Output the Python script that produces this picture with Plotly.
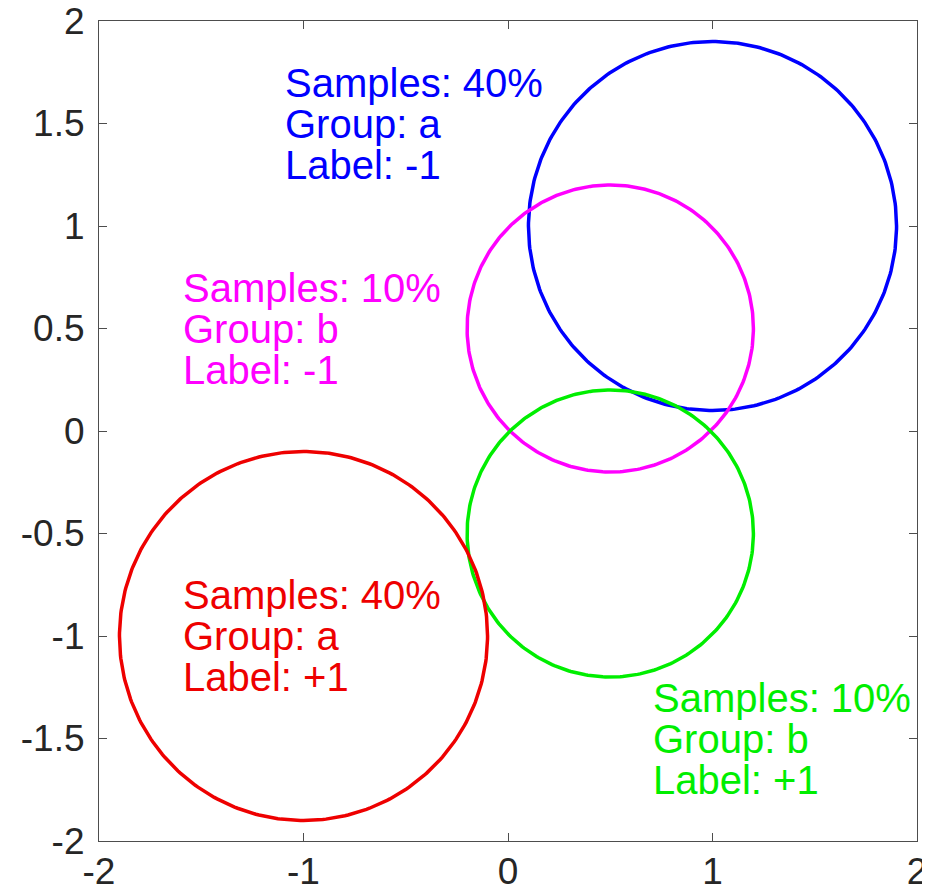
import numpy as np
import plotly.graph_objects as go

# Circle data
centers_x = [1.0, 0.5, 0.5, -1.0]
centers_y = [1.0, 0.5, -0.5, -1.0]
radii = [0.9, 0.7, 0.7, 0.9]
colors = ["#0000ff", "#ff00ff", "#00ee00", "#ee0000"]

# Text label data
label_x = [-1.1, -1.6, 0.7, -1.6]
label_y = [1.5, 0.5, -1.5, -1.0]
samples = ["Samples: 40%", "Samples: 10%", "Samples: 10%", "Samples: 40%"]
groups = ["Group: a", "Group: b", "Group: b", "Group: a"]
labels = ["Label: -1", "Label: -1", "Label: +1", "Label: +1"]

# Ticks
x_ticks = [-2, -1, 0, 1, 2]
x_ticktext = ["-2", "-1", "0", "1", "2"]
y_ticks = [-2, -1.5, -1, -0.5, 0, 0.5, 1, 1.5, 2]
y_ticktext = ["-2", "-1.5", "-1", "-0.5", "0", "0.5", "1", "1.5", "2"]

fig = go.Figure()
theta = np.linspace(0, 2 * np.pi, 361)
for cx, cy, r, c in zip(centers_x, centers_y, radii, colors):
    fig.add_trace(go.Scatter(
        x=cx + r * np.cos(theta), y=cy + r * np.sin(theta),
        mode="lines", line=dict(color=c, width=3.5), showlegend=False,
        hoverinfo="skip"))

line_step = 0.2
for lx, ly, s, g, l, c in zip(label_x, label_y, samples, groups, labels, colors):
    for k, t in enumerate([s, g, l]):
        fig.add_annotation(x=lx, y=ly + (1 - k) * line_step, text=t,
                           xref="x", yref="y", xanchor="left", yanchor="middle",
                           showarrow=False,
                           font=dict(family="Liberation Sans, Arial, sans-serif",
                                     size=40, color=c))

axis_common = dict(
    showgrid=False, zeroline=False, showline=True, linecolor="#4d4d4d",
    linewidth=1.2, mirror="allticks", ticks="inside", ticklen=8,
    tickwidth=1, tickcolor="#4d4d4d", automargin=False,
    ticklabeloverflow="allow",
    tickfont=dict(family="Liberation Sans, Arial, sans-serif", size=37,
                  color="#262626"))

fig.update_xaxes(range=[-2, 2], tickvals=x_ticks, ticktext=x_ticktext,
                 ticklabelstandoff=-3, **axis_common)
fig.update_yaxes(range=[-2, 2], tickvals=y_ticks, ticktext=y_ticktext,
                 ticklabelstandoff=6, **axis_common)

fig.update_layout(
    width=930, height=893,
    margin=dict(l=91, r=21, t=13, b=60, pad=0),
    plot_bgcolor="white", paper_bgcolor="white",
)

fig.write_html("out.html")
